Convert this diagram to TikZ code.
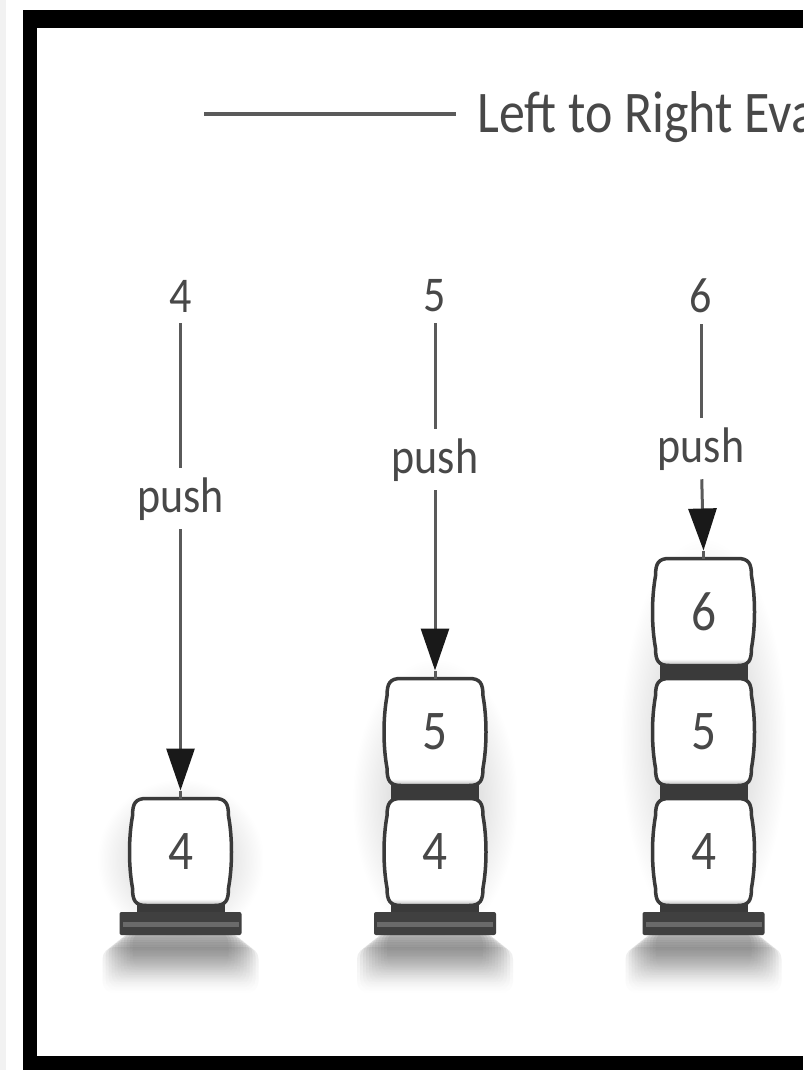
\documentclass[tikz,border=0pt]{standalone}
\usepackage{fontspec}
\setmainfont{Carlito}[FakeStretch=0.88]
\usetikzlibrary{arrows.meta,fadings,calc}
\definecolor{ink}{HTML}{484848}
\definecolor{wire}{HTML}{5A5A5A}
\definecolor{cellline}{HTML}{3A3A3A}
\definecolor{band}{HTML}{3A3A3A}
\definecolor{basedark}{HTML}{404040}
\definecolor{baselight}{HTML}{6A6A6A}
\definecolor{strip}{HTML}{F2F2F2}
\tikzfading[name=softshadow, inner color=transparent!0, outer color=transparent!100]
\tikzfading[name=fadedown, top color=transparent!0, bottom color=transparent!100]
\pgfdeclareverticalshading{cellshade}{100bp}{color(0bp)=(black!30); color(25bp)=(black!30); color(28bp)=(white); color(100bp)=(white)}
\tikzset{
  frame/.style={fill=black},
  titletext/.style={text=ink, anchor=base west, inner sep=0pt, font=\fontsize{59}{63}\selectfont},
  titlerule/.style={draw=wire, line width=4pt},
  toplabel/.style={text=ink, inner sep=11pt, font=\fontsize{50}{54}\selectfont},
  pushlabel/.style={text=ink, inner sep=9pt, anchor=base, font=\fontsize{50}{54}\selectfont},
  wireline/.style={draw=wire, line width=3pt},
  pusharrow/.style={wireline, -{Triangle[length=42pt, width=28pt, color=black!90]}},
  celltext/.style={text=ink, font=\fontsize{56}{60}\selectfont},
  cellbox/.style={draw=cellline, line width=3.5pt, shading=cellshade},
  gapband/.style={fill=band},
  basedark/.style={fill=basedark, rounded corners=2pt},
  baselight/.style={fill=baselight},
  shadowlayer/.style={fill=black!70, path fading=fadedown, opacity=0.1},
  haze/.style={fill=black!24, path fading=softshadow},
  cell/.pic={
    \path[cellbox] (-34,-53.5) -- (34,-53.5)
      .. controls (45,-53.5) and (48,-49) .. (48,-36)
      .. controls (52,-14) and (52,14) .. (48,36)
      .. controls (48,49) and (45,53.5) .. (34,53.5)
      -- (-34,53.5)
      .. controls (-45,53.5) and (-48,49) .. (-48,36)
      .. controls (-52,14) and (-52,-14) .. (-48,-36)
      .. controls (-48,-49) and (-45,-53.5) .. (-34,-53.5) -- cycle;
    \node[celltext] (-t) at (0,0) {#1};
    \coordinate (-top) at (0,-53.5);
  },
  stackbase/.pic={
    \foreach \w in {48,51,...,78} {
      \path[shadowlayer, rounded corners=12pt] (-\w,{8+max(0,\w-58)*0.8}) rectangle (\w,{8+0.8*\w});
    }
    \path[basedark] (-61,-11) rectangle (61,12);
    \path[baselight] (-58,-1) rectangle (58,4);
  }
}
\begin{document}
\begin{tikzpicture}[x=1pt, y=-1pt]
\useasboundingbox (0,0) rectangle (803,1070);
\clip (0,0) rectangle (803,1070);
\fill[white] (0,0) rectangle (803,1070);
\fill[strip] (0,0) rectangle (6,1070);

% frame
\path[frame] (23,10) rectangle (803,28);
\path[frame] (23,10) rectangle (37,1070);
\path[frame] (23,1056) rectangle (803,1070);

% title
\node[titletext] (title) at (477,132) {Left to Right Evaluation};
\coordinate (ruleL) at (204,114);
\coordinate (ruleR) at (456,114);
\draw[titlerule] (ruleL) -- (ruleR);

% ---------- column 1 ----------
\path[haze] (98,780) rectangle (263,940);
\path[gapband] (136.5,895) rectangle (224.5,914);
\pic at (180.5,923) {stackbase};
\pic (a4) at (180.5,852) {cell=4};
\node[toplabel] (d1) at (180.5,296) {4};
\node[pushlabel] (p1) at (180.5,512) {push};
\coordinate (t1) at (180.5,790.5);
\draw[wireline] (d1) -- (p1);
\draw[pusharrow] (p1) -- (t1);
\draw[wireline] (t1) -- (a4-top);

% ---------- column 2 ----------
\path[haze] (353,660) rectangle (517,940);
\path[gapband] (391,895) rectangle (479,914);
\path[gapband] (391,782) rectangle (479,802);
\pic at (435,923) {stackbase};
\pic (b4) at (435,852) {cell=4};
\pic (b5) at (435,732) {cell=5};
\node[toplabel] (d2) at (435,296) {5};
\node[pushlabel] (p2) at (435,473) {push};
\coordinate (t2) at (435,670.5);
\draw[wireline] (d2) -- (p2);
\draw[pusharrow] (p2) -- (t2);
\draw[wireline] (t2) -- (b5-top);

% ---------- column 3 ----------
\path[haze] (621,540) rectangle (786,940);
\path[gapband] (659.5,895) rectangle (747.5,914);
\path[gapband] (659.5,782) rectangle (747.5,802);
\path[gapband] (659.5,662) rectangle (747.5,682);
\pic at (703.5,923) {stackbase};
\pic (c4) at (703.5,852) {cell=4};
\pic (c5) at (703.5,732) {cell=5};
\pic (c6) at (703.5,612) {cell=6};
\node[toplabel] (d3) at (701,296) {6};
\node[pushlabel] (p3) at (701,462) {push};
\coordinate (t3) at (703.5,550.5);
\draw[wireline] (d3) -- (p3);
\draw[pusharrow] (p3) -- (t3);
\draw[wireline] (t3) -- (c6-top);
\end{tikzpicture}
\end{document}
